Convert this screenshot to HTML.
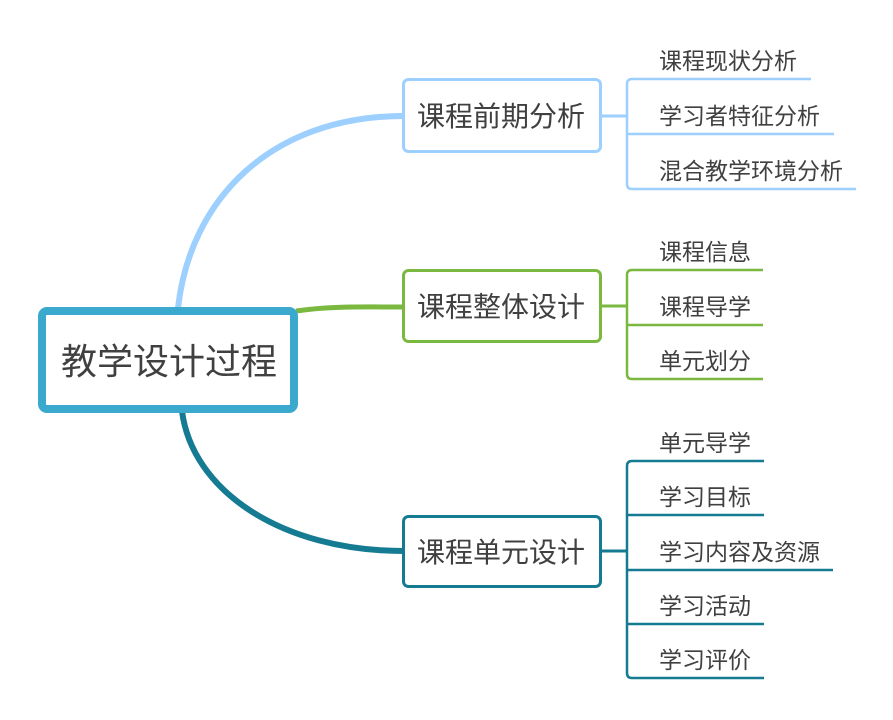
<!DOCTYPE html>
<html>
<head>
<meta charset="utf-8">
<style>
html,body{margin:0;padding:0;background:#fff;}
svg{display:block;}
text{font-family:"Liberation Sans","Noto Sans CJK SC",sans-serif;fill:#404040;}
</style>
</head>
<body>
<svg width="893" height="720" viewBox="0 0 893 720" xmlns="http://www.w3.org/2000/svg">
  <rect width="893" height="720" fill="#fff"/>
  <!-- main curves -->
  <path d="M178,308 C190,200 270,116 404,116" fill="none" stroke="#9dcfff" stroke-width="6"/>
  <path d="M296,311 C330,306 360,307 404,307" fill="none" stroke="#7bb83f" stroke-width="5"/>
  <path d="M182,411 C192,490 280,551 404,551" fill="none" stroke="#157b93" stroke-width="6"/>

  <!-- central node -->
  <rect x="42" y="311" width="252" height="98" rx="5" fill="#fff" stroke="#3ba9ce" stroke-width="8"/>
  <text x="61" y="374" font-size="36">教学设计过程</text>

  <!-- Branch 1 -->
  <rect x="403.5" y="79.5" width="197" height="72" rx="5" fill="#fff" stroke="#9dcfff" stroke-width="3"/>
  <text x="417" y="126" font-size="28">课程前期分析</text>
  <path d="M601,116 H627" stroke="#9dcfff" stroke-width="3" fill="none"/>
  <path d="M811,79 H632 Q627,79 627,84 V184 Q627,189 632,189 H856" stroke="#9dcfff" stroke-width="2.5" fill="none"/>
  <path d="M627,134 H834" stroke="#9dcfff" stroke-width="2.5" fill="none"/>
  <text x="659" y="69" font-size="23">课程现状分析</text>
  <text x="659" y="124" font-size="23">学习者特征分析</text>
  <text x="659" y="179" font-size="23">混合教学环境分析</text>

  <!-- Branch 2 -->
  <rect x="403.5" y="270.5" width="197" height="71" rx="5" fill="#fff" stroke="#7bb83f" stroke-width="3"/>
  <text x="417" y="316.5" font-size="28">课程整体设计</text>
  <path d="M601,306 H627" stroke="#7bb83f" stroke-width="3" fill="none"/>
  <path d="M763,270 H632 Q627,270 627,275 V374 Q627,379 632,379 H763" stroke="#7bb83f" stroke-width="2.5" fill="none"/>
  <path d="M627,325 H763" stroke="#7bb83f" stroke-width="2.5" fill="none"/>
  <text x="659" y="260" font-size="23">课程信息</text>
  <text x="659" y="315" font-size="23">课程导学</text>
  <text x="659" y="369" font-size="23">单元划分</text>

  <!-- Branch 3 -->
  <rect x="403.5" y="516.5" width="197" height="70" rx="5" fill="#fff" stroke="#157b93" stroke-width="3"/>
  <text x="417" y="562" font-size="28">课程单元设计</text>
  <path d="M601,551 H627" stroke="#157b93" stroke-width="3" fill="none"/>
  <path d="M764,461 H632 Q627,461 627,466 V673 Q627,678 632,678 H764" stroke="#157b93" stroke-width="2.5" fill="none"/>
  <path d="M627,515 H764" stroke="#157b93" stroke-width="2.5" fill="none"/>
  <path d="M627,570 H833" stroke="#157b93" stroke-width="2.5" fill="none"/>
  <path d="M627,624 H764" stroke="#157b93" stroke-width="2.5" fill="none"/>
  <text x="659" y="451" font-size="23">单元导学</text>
  <text x="659" y="505" font-size="23">学习目标</text>
  <text x="659" y="560" font-size="23">学习内容及资源</text>
  <text x="659" y="614" font-size="23">学习活动</text>
  <text x="659" y="668" font-size="23">学习评价</text>
</svg>
</body>
</html>
